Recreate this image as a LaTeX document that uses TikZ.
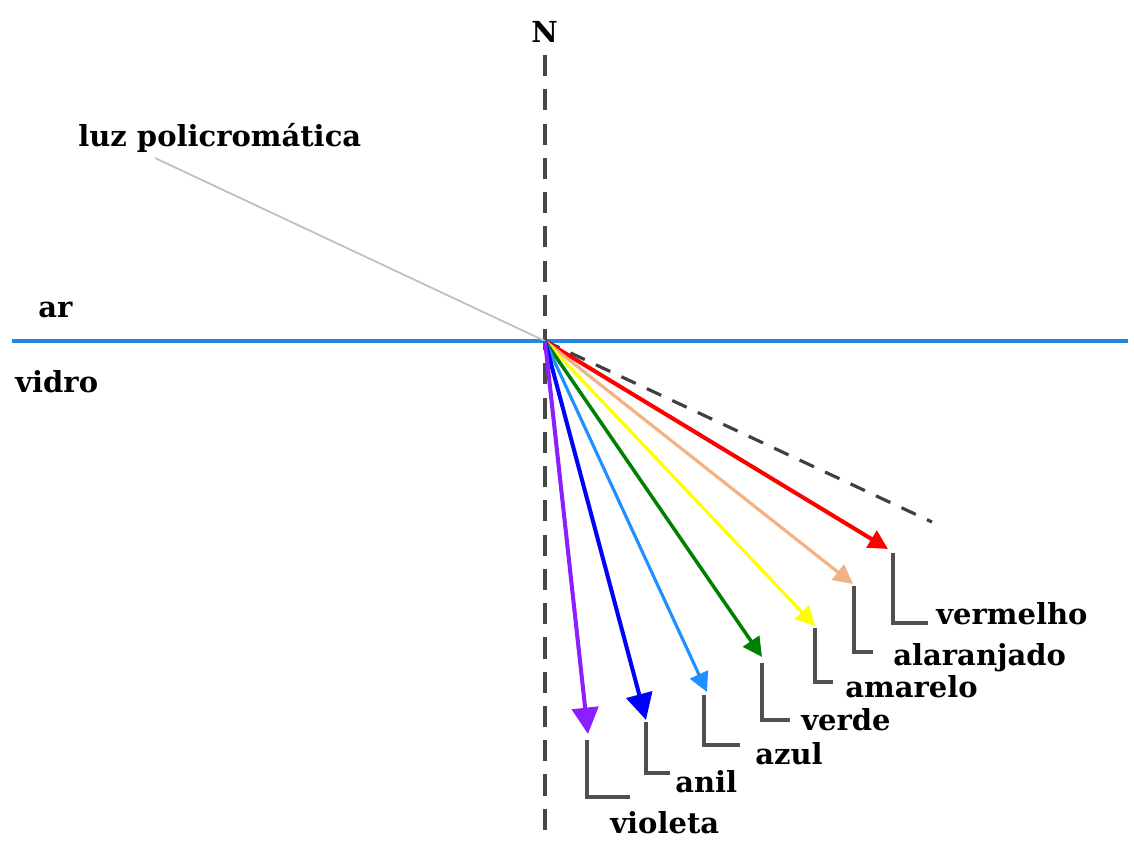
\documentclass[tikz,border=0pt]{standalone}
\usepackage{fontspec}
\setmainfont{DejaVu Serif}
\usetikzlibrary{arrows.meta}
\definecolor{surf}{RGB}{30,136,229}
\definecolor{cred}{RGB}{255,0,0}
\definecolor{corange}{RGB}{244,177,131}
\definecolor{cyellow}{RGB}{255,255,0}
\definecolor{cgreen}{RGB}{0,128,0}
\definecolor{cazul}{RGB}{30,144,255}
\definecolor{canil}{RGB}{0,0,255}
\definecolor{cviol}{RGB}{140,30,255}
\definecolor{lead}{RGB}{80,80,80}
\tikzset{
  lbl/.style={font=\fontsize{16.5}{18}\bfseries\selectfont, anchor=base west, inner sep=0pt, text=black},
  ray/.style={line width=#1, -{Triangle[length=11pt,width=11pt]}},
  bigray/.style={line width=#1, -{Triangle[length=15pt,width=15pt]}},
  leader/.style={draw=lead, line width=2pt},
}
\begin{document}
\begin{tikzpicture}[x=0.02cm,y=-0.02cm]
\useasboundingbox[fill=white] (0,0) rectangle (1134,841);
% coordinates
\coordinate (O) at (545,341);
\coordinate (Ntop) at (545,55);
\coordinate (Nbot) at (545,832);
\coordinate (Sl) at (12,341);
\coordinate (Sr) at (1128,341);
\coordinate (src) at (155,158);
\coordinate (ext) at (932,522);
\coordinate (tR) at (888,549);
\coordinate (tO) at (853,584);
\coordinate (tY) at (815,626);
\coordinate (tG) at (762,657);
\coordinate (tA) at (707,692);
\coordinate (tI) at (646,720);
\coordinate (tV) at (588,734);
% surface
\draw[surf, line width=2.5pt] (Sl) -- (Sr);
% normal
\draw[black!72, line width=1.8pt, dash pattern=on 12pt off 7.5pt] (Ntop) -- (Nbot);
% incident ray
\draw[black!25, line width=1pt] (src) -- (O);
% extension of incident
\draw[black!75, line width=1.8pt, dash pattern=on 9pt off 7pt] (O) -- (ext);
% refracted rays
\draw[cred, ray=2.3pt] (O) -- (tR);
\draw[corange, ray=1.8pt] (O) -- (tO);
\draw[cyellow, ray=1.8pt] (O) -- (tY);
\draw[cgreen, ray=2pt] (O) -- (tG);
\draw[cazul, ray=1.8pt] (O) -- (tA);
\draw[canil, bigray=2.3pt] (O) -- (tI);
\draw[cviol, bigray=2.3pt] (O) -- (tV);
% labels
\node[lbl] (N) at (531,43) {N};
\node[lbl] (luz) at (78,147) {luz policromática};
\node[lbl] (ar) at (38,318) {ar};
\node[lbl] (vidro) at (15,393) {vidro};
\node[lbl] (lR) at (936,624) {vermelho};
\node[lbl] (lO) at (893,665) {alaranjado};
\node[lbl] (lY) at (845,697) {amarelo};
\node[lbl] (lG) at (801,730) {verde};
\node[lbl] (lA) at (755,765) {azul};
\node[lbl] (lI) at (675,792) {anil};
\node[lbl] (lV) at (610,833) {violeta};
% leaders
\coordinate (aR) at (893,553); \coordinate (bR) at (928,623);
\coordinate (aO) at (854,586); \coordinate (bO) at (873,652);
\coordinate (aY) at (815,628); \coordinate (bY) at (833,682);
\coordinate (aG) at (762,663); \coordinate (bG) at (790,720);
\coordinate (aA) at (704,695); \coordinate (bA) at (740,745);
\coordinate (aI) at (646,722); \coordinate (bI) at (670,773);
\coordinate (aV) at (587,740); \coordinate (bV) at (630,797);
\foreach \c in {R,O,Y,G,A,I,V}{\draw[leader] (a\c) |- (b\c);}
\end{tikzpicture}
\end{document}
